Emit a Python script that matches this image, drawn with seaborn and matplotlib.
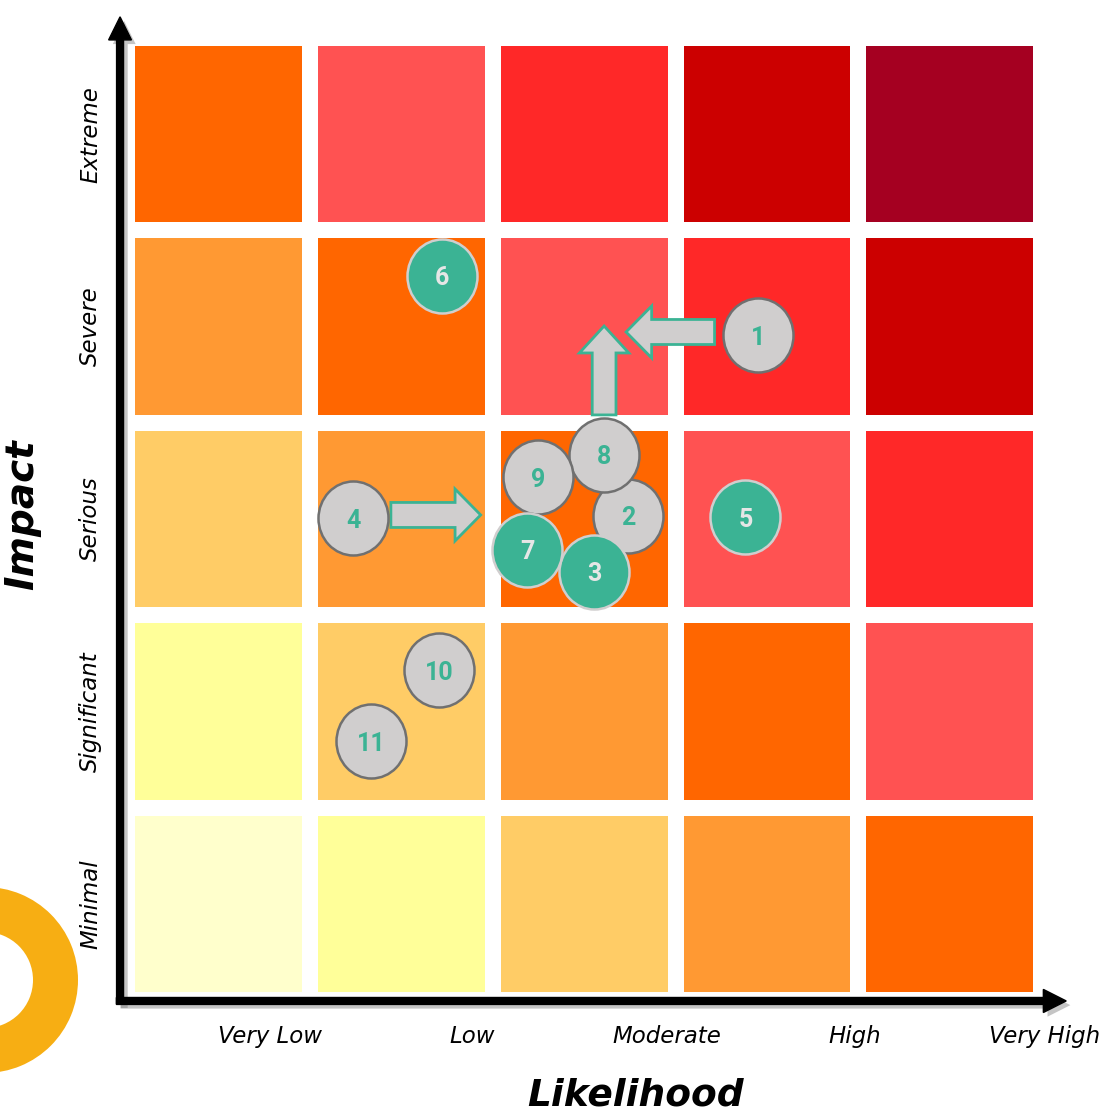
import numpy as np
import pandas as pd
import matplotlib
matplotlib.use("Agg")
import matplotlib.pyplot as plt
import matplotlib.patheffects as pe
import seaborn as sns
from matplotlib.colors import ListedColormap
from matplotlib.patches import FancyArrow, Wedge
from matplotlib.path import Path
from matplotlib.transforms import Affine2D

# ---- data -------------------------------------------------------------
likelihood_labels = ["Very Low", "Low", "Moderate", "High", "Very High"]
impact_labels = ["Minimal", "Significant", "Serious", "Severe", "Extreme"]  # bottom -> top

# risk score of each cell, rows from Minimal (bottom) to Extreme (top)
score_grid = [
    [0, 1, 2, 3, 4],
    [1, 2, 3, 4, 5],
    [2, 3, 4, 5, 6],
    [3, 4, 5, 6, 7],
    [4, 5, 6, 7, 8],
]
score_colors = ["#FFFFCC", "#FFFF99", "#FFCC66", "#FF9933", "#FF6600",
                "#FF5252", "#FF2828", "#CC0000", "#A50021"]

# risks placed on the matrix (likelihood / impact in cell units from the origin)
risk_ids = [1, 2, 3, 4, 5, 6, 7, 8, 9, 10, 11]
risk_likelihood = [3.453, 2.740, 2.554, 1.236, 3.382, 1.721, 2.190, 2.609, 2.249, 1.705, 1.334]
risk_impact = [3.456, 2.516, 2.225, 2.505, 2.510, 3.763, 2.339, 2.833, 2.718, 1.715, 1.346]
risk_status = ["open", "open", "treated", "open", "treated", "treated",
               "treated", "open", "open", "open", "open"]

# expected movement of risks (start -> end)
move_start_x = [1.443, 3.213, 2.609]
move_start_y = [2.521, 3.472, 3.041]
move_end_x = [1.934, 2.729, 2.609]
move_end_y = [2.521, 3.472, 3.503]

# x positions of the likelihood captions
likelihood_label_pos = [0.78, 1.89, 2.95, 3.98, 5.02]

# ---- figure -----------------------------------------------------------
W, H = 1114, 1117
fig = plt.figure(figsize=(W / 100, H / 100), dpi=100)
ax = fig.add_axes([127 / W, (H - 1000) / H, 918 / W, 962 / H])

sns.heatmap(np.array(score_grid), cmap=ListedColormap(score_colors),
            vmin=-0.5, vmax=8.5, cbar=False, linewidths=11.5,
            linecolor="white", ax=ax)
ax.set_ylim(0, 5)
ax.set_xlim(0, 5)

# axis captions
ax.set_xticks(likelihood_label_pos)
ax.set_xticklabels(likelihood_labels, fontstyle="italic", fontsize=16.5,
                   rotation=0, color="black")
ax.set_yticks([0.5, 1.5, 2.5, 3.5, 4.5])
ax.set_yticklabels(impact_labels, fontstyle="italic", fontsize=16.5,
                   rotation=90, va="center", color="black")
ax.tick_params(axis="x", length=0, pad=18)
ax.tick_params(axis="y", length=0, pad=18)
ax.set_xlabel("")
ax.set_ylabel("")

fig.text(22 / W, 1 - 515 / H, "Impact", rotation=90, ha="center", va="center",
         fontsize=28, fontweight="bold", fontstyle="italic")
fig.text(636 / W, 1 - 1095 / H, "Likelihood", ha="center", va="center",
         fontsize=27, fontweight="bold", fontstyle="italic")

# axis arrows with drop shadow
shadow = [pe.SimplePatchShadow(offset=(3, -3), shadow_rgbFace="#808080", alpha=0.45),
          pe.Normal()]
yaxis_arrow = FancyArrow(-0.038, -0.02, 0, 5.13, width=0.038, head_width=0.125,
                         head_length=0.12, length_includes_head=True,
                         color="black", clip_on=False, zorder=4)
xaxis_arrow = FancyArrow(-0.058, -0.005, 5.194, 0, width=0.036, head_width=0.12,
                         head_length=0.125, length_includes_head=True,
                         color="black", clip_on=False, zorder=4)
for a in (yaxis_arrow, xaxis_arrow):
    a.set_path_effects(shadow)
    ax.add_patch(a)

# movement arrows
for x0, y0, x1, y1 in zip(move_start_x, move_start_y, move_end_x, move_end_y):
    ax.add_patch(FancyArrow(x0, y0, x1 - x0, y1 - y0, width=0.13, head_width=0.27,
                            head_length=0.14, length_includes_head=True,
                            facecolor="#D0CECE", edgecolor="#3BB394",
                            linewidth=2, zorder=2.5))

# risk bubbles (slightly tall ellipses)
bubble = Path.unit_circle().transformed(Affine2D().scale(0.946, 1.0))
risks = pd.DataFrame({"id": risk_ids, "likelihood": risk_likelihood,
                      "impact": risk_impact, "status": risk_status})
styles = {
    "open": dict(face="#D0CECE", edge="#707070", text="#3BB394", z=3),
    "treated": dict(face="#3BB394", edge="#D0CECE", text="#E6E6E6", z=4),
}
for status, st in styles.items():
    sub = risks[risks["status"] == status]
    sns.scatterplot(data=sub, x="likelihood", y="impact", marker=bubble, s=2840,
                    color=st["face"], edgecolor=st["edge"], linewidth=1.8,
                    legend=False, ax=ax, zorder=st["z"], clip_on=False)
    for _, r in sub.iterrows():
        ax.text(r["likelihood"], r["impact"], str(r["id"]), ha="center",
                va="center_baseline", fontsize=18, fontweight="bold",
                family="Roboto", color=st["text"], zorder=st["z"] + 0.5)

ax.set_xlabel("")
ax.set_ylabel("")

# decorative ring in the lower-left corner
ring = Wedge((-0.15, 1.37), 0.93, 0, 360, width=0.45, facecolor="#F7AE13",
             edgecolor="none", transform=fig.dpi_scale_trans)
fig.add_artist(ring)

fig.savefig("out.png", dpi=100)
